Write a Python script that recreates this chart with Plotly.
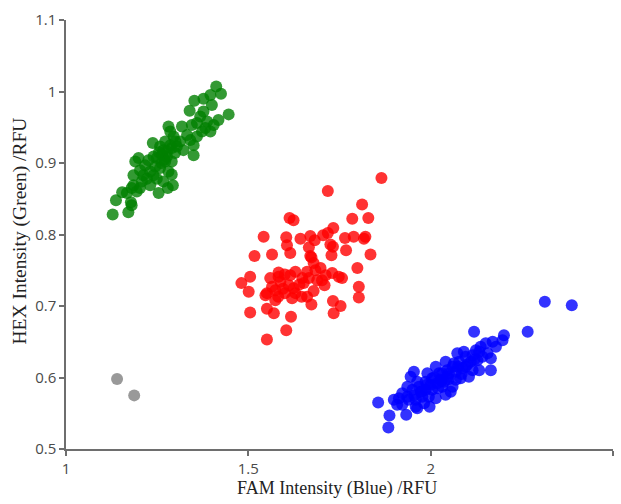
import plotly.graph_objects as go

green_x = [1.128, 1.171, 1.137, 1.154, 1.178, 1.185, 1.203, 1.190, 1.199, 1.217, 1.212, 1.231, 1.240, 1.254,
           1.279, 1.293, 1.290, 1.258, 1.249, 1.263, 1.277, 1.286, 1.272, 1.238, 1.295, 1.281, 1.286, 1.318,
           1.313, 1.322, 1.350, 1.341, 1.350, 1.345, 1.373, 1.396, 1.387, 1.368, 1.418, 1.446, 1.339, 1.352,
           1.377, 1.396, 1.412, 1.425, 1.400, 1.377, 1.304, 1.290, 1.267, 1.231, 1.208, 1.194, 1.180, 1.167,
           1.185, 1.203, 1.245, 1.272, 1.277, 1.258, 1.299, 1.332, 1.359, 1.382, 1.405, 1.359, 1.180, 1.222,
           1.249, 1.281, 1.290, 1.267, 1.240, 1.226, 1.262, 1.270, 1.300, 1.255]
green_y = [0.828, 0.831, 0.848, 0.859, 0.845, 0.869, 0.865, 0.902, 0.907, 0.897, 0.883, 0.888, 0.883, 0.858,
           0.865, 0.869, 0.884, 0.893, 0.907, 0.912, 0.916, 0.925, 0.930, 0.928, 0.937, 0.951, 0.944, 0.951,
           0.930, 0.918, 0.911, 0.932, 0.925, 0.953, 0.944, 0.944, 0.958, 0.965, 0.960, 0.968, 0.973, 0.987,
           0.990, 0.995, 1.007, 0.997, 0.981, 0.972, 0.923, 0.902, 0.874, 0.869, 0.874, 0.860, 0.865, 0.858,
           0.883, 0.890, 0.895, 0.902, 0.909, 0.923, 0.914, 0.939, 0.937, 0.949, 0.953, 0.956, 0.841, 0.878,
           0.878, 0.888, 0.921, 0.918, 0.909, 0.904, 0.900, 0.905, 0.930, 0.915]

red_x = [1.865, 1.718, 1.812, 1.785, 1.829, 1.613, 1.624, 1.542, 1.604, 1.643, 1.670, 1.682, 1.705, 1.718,
         1.733, 1.765, 1.789, 1.821, 1.817, 1.606, 1.666, 1.725, 1.732, 1.768, 1.517, 1.565, 1.615, 1.670,
         1.728, 1.835, 1.799, 1.679, 1.673, 1.505, 1.481, 1.501, 1.551, 1.560, 1.583, 1.600, 1.629, 1.588,
         1.574, 1.611, 1.629, 1.620, 1.652, 1.666, 1.684, 1.698, 1.712, 1.730, 1.748, 1.709, 1.679, 1.661,
         1.673, 1.732, 1.753, 1.734, 1.803, 1.803, 1.547, 1.574, 1.505, 1.551, 1.570, 1.617, 1.604, 1.551,
         1.600, 1.624, 1.646, 1.582, 1.757, 1.648, 1.615, 1.565, 1.689, 1.702, 1.583, 1.661, 1.595, 1.640]
red_y = [0.879, 0.861, 0.842, 0.822, 0.823, 0.823, 0.820, 0.797, 0.796, 0.794, 0.798, 0.792, 0.799, 0.802,
         0.809, 0.795, 0.797, 0.797, 0.794, 0.785, 0.782, 0.786, 0.783, 0.778, 0.770, 0.772, 0.774, 0.770,
         0.771, 0.772, 0.753, 0.760, 0.768, 0.741, 0.732, 0.720, 0.718, 0.739, 0.747, 0.744, 0.748, 0.734,
         0.722, 0.729, 0.718, 0.711, 0.732, 0.739, 0.750, 0.753, 0.743, 0.746, 0.741, 0.729, 0.721, 0.713,
         0.702, 0.707, 0.700, 0.690, 0.727, 0.712, 0.715, 0.708, 0.691, 0.696, 0.690, 0.685, 0.666, 0.653,
         0.718, 0.725, 0.713, 0.713, 0.739, 0.739, 0.743, 0.727, 0.736, 0.736, 0.741, 0.748, 0.724, 0.730]

blue_x = [1.884, 1.887, 1.856, 1.899, 1.933, 1.963, 1.997, 1.922, 1.945, 1.954, 1.950, 1.968, 1.986, 2.014,
          2.041, 2.055, 2.032, 2.004, 1.977, 1.940, 1.922, 1.959, 1.995, 2.018, 2.046, 2.069, 2.078, 2.073,
          2.091, 2.096, 2.115, 2.128, 2.124, 2.137, 2.151, 2.170, 2.165, 2.165, 2.156, 2.201, 2.119, 2.197,
          2.060, 2.032, 2.004, 1.991, 2.060, 2.082, 2.105, 2.133, 2.142, 2.096, 2.027, 1.973, 1.936, 1.913,
          1.908, 1.959, 1.982, 2.014, 2.041, 2.000, 1.963, 1.936, 2.069, 2.087, 2.110, 2.133, 2.179, 2.050,
          2.023, 2.064, 2.115, 2.037, 1.986, 2.313, 2.387, 2.266, 2.010, 2.030, 2.045, 2.075, 1.990, 1.955,
          2.100, 2.120, 2.050, 1.975, 2.085, 2.020]
blue_y = [0.530, 0.547, 0.565, 0.569, 0.548, 0.557, 0.559, 0.578, 0.601, 0.608, 0.583, 0.587, 0.594, 0.615,
          0.622, 0.580, 0.587, 0.583, 0.573, 0.569, 0.562, 0.569, 0.573, 0.592, 0.601, 0.608, 0.622, 0.634,
          0.636, 0.615, 0.610, 0.624, 0.638, 0.643, 0.648, 0.650, 0.627, 0.610, 0.634, 0.659, 0.664, 0.652,
          0.587, 0.606, 0.599, 0.606, 0.615, 0.599, 0.601, 0.610, 0.629, 0.629, 0.597, 0.580, 0.573, 0.571,
          0.562, 0.559, 0.564, 0.571, 0.576, 0.590, 0.594, 0.587, 0.597, 0.613, 0.622, 0.636, 0.643, 0.606,
          0.606, 0.620, 0.631, 0.594, 0.583, 0.706, 0.701, 0.664, 0.600, 0.595, 0.610, 0.615, 0.590, 0.575,
          0.618, 0.625, 0.598, 0.580, 0.605, 0.585]

gray_x = [1.140, 1.187]
gray_y = [0.598, 0.575]

x_ticks = [1, 1.5, 2, 2.5]
x_labels = ["1", "1.5", "2", "2.5"]
y_ticks = [0.5, 0.6, 0.7, 0.8, 0.9, 1.0, 1.1]
y_labels = ["0.5", "0.6", "0.7", "0.8", "0.9", "1", "1.1"]

series = [
    ("Green", green_x, green_y, "rgb(0,128,0)"),
    ("Red", red_x, red_y, "rgb(255,0,0)"),
    ("Blue", blue_x, blue_y, "rgb(0,0,255)"),
    ("NTC", gray_x, gray_y, "rgb(128,128,128)"),
]

fig = go.Figure()
for name, xs, ys, col in series:
    fig.add_trace(go.Scatter(x=xs, y=ys, mode="markers", name=name,
                             marker=dict(size=12, color=col, opacity=0.8, line=dict(width=0))))

axis_common = dict(showline=True, linecolor="#6e6e6e", linewidth=1.5, ticks="outside", ticklen=5,
                   tickcolor="#6e6e6e", tickwidth=1.5, showgrid=False, zeroline=False, automargin=False,
                   tickfont=dict(family="Open Sans", size=15, color="#4a4a4a"))

fig.update_layout(
    width=621, height=504,
    margin=dict(l=66, r=8, t=20, b=55),
    paper_bgcolor="white", plot_bgcolor="white",
    showlegend=False,
    xaxis=dict(range=[1, 2.5], tickvals=x_ticks, ticktext=x_labels, **axis_common),
    yaxis=dict(range=[0.5, 1.1], tickvals=y_ticks, ticktext=y_labels, **axis_common),
    annotations=[
        dict(text="FAM Intensity (Blue) /RFU", xref="paper", yref="paper", x=0.5, y=-0.0932,
             xanchor="center", yanchor="middle", xshift=-3, showarrow=False,
             font=dict(family="Liberation Serif", size=18, color="#222")),
        dict(text="HEX Intensity (Green) /RFU", xref="paper", yref="paper", x=0, y=0.5,
             xanchor="center", yanchor="middle", xshift=-47, yshift=3, textangle=-90,
             showarrow=False, font=dict(family="Liberation Serif", size=19.5, color="#222")),
    ],
)

fig.write_html("out.html", config={"displayModeBar": False},
               post_script="document.body.style.margin='0';document.body.style.padding='0';")
